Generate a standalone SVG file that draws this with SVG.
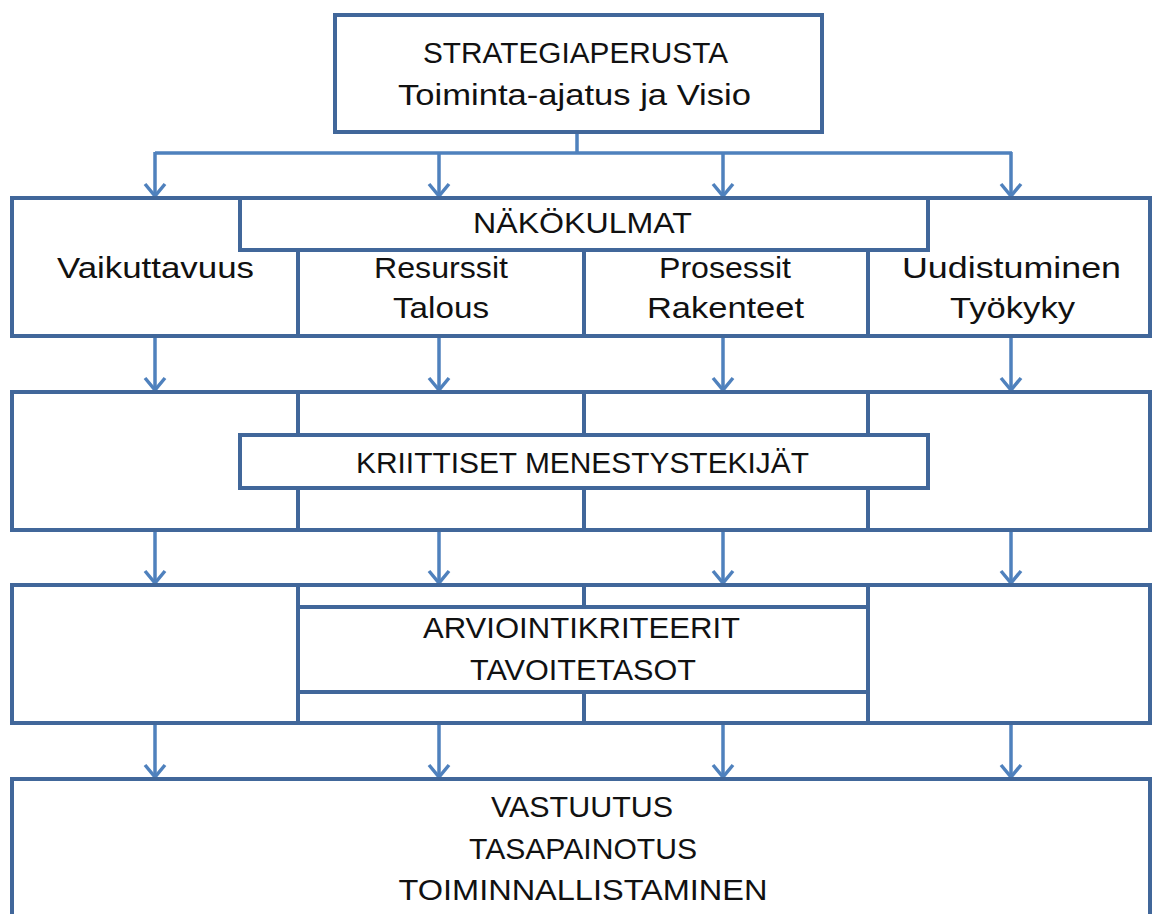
<svg xmlns="http://www.w3.org/2000/svg" width="1157" height="914" viewBox="0 0 1157 914">
<style>
.box{fill:#fff;stroke:#41679a;stroke-width:4}
.div{fill:none;stroke:#41679a;stroke-width:4}
.con{fill:none;stroke:#4f81bd;stroke-width:3.5}
.t{font-family:"Liberation Sans",Arial,sans-serif;font-size:29px;fill:#111;text-anchor:middle}
</style>
<defs>
<marker id="ah" markerUnits="userSpaceOnUse" markerWidth="18" markerHeight="26" viewBox="0 0 18 26" refX="15" refY="13" orient="auto">
<path d="M3,3 L15,13 L3,23" fill="none" stroke="#4f81bd" stroke-width="3.5"/>
</marker>
</defs>
<rect width="1157" height="914" fill="#fff"/>
<g id="connectors">
<path class="con" d="M577,132 V153 M155,153 H1012"/>
<path class="con" marker-end="url(#ah)" d="M155,152 V196"/>
<path class="con" marker-end="url(#ah)" d="M439,153 V196"/>
<path class="con" marker-end="url(#ah)" d="M723,153 V196"/>
<path class="con" marker-end="url(#ah)" d="M1011,152 V196"/>
<path class="con" marker-end="url(#ah)" d="M155,338 V390"/>
<path class="con" marker-end="url(#ah)" d="M439,338 V390"/>
<path class="con" marker-end="url(#ah)" d="M723,338 V390"/>
<path class="con" marker-end="url(#ah)" d="M1011,338 V390"/>
<path class="con" marker-end="url(#ah)" d="M155,532 V583"/>
<path class="con" marker-end="url(#ah)" d="M439,532 V583"/>
<path class="con" marker-end="url(#ah)" d="M723,532 V583"/>
<path class="con" marker-end="url(#ah)" d="M1011,532 V583"/>
<path class="con" marker-end="url(#ah)" d="M155,725 V777"/>
<path class="con" marker-end="url(#ah)" d="M439,725 V777"/>
<path class="con" marker-end="url(#ah)" d="M723,725 V777"/>
<path class="con" marker-end="url(#ah)" d="M1011,725 V777"/>
</g>
<g id="strategiaperusta">
<rect class="box" x="335" y="15" width="487" height="117"/>
<text class="t" x="575.5" y="63" textLength="305" lengthAdjust="spacingAndGlyphs">STRATEGIAPERUSTA</text>
<text class="t" x="574.5" y="105" textLength="353" lengthAdjust="spacingAndGlyphs">Toiminta-ajatus ja Visio</text>
</g>
<g id="nakokulmat">
<rect class="box" x="12" y="198" width="1138" height="138"/>
<path class="div" d="M298,250 V336 M584,250 V336 M868,250 V336"/>
<rect class="box" x="240" y="198" width="688" height="52"/>
<text class="t" x="582.5" y="233" textLength="219" lengthAdjust="spacingAndGlyphs">NÄKÖKULMAT</text>
<text class="t" x="155.5" y="278" textLength="197" lengthAdjust="spacingAndGlyphs">Vaikuttavuus</text>
<text class="t" x="441" y="278" textLength="134" lengthAdjust="spacingAndGlyphs">Resurssit</text>
<text class="t" x="441" y="318" textLength="96" lengthAdjust="spacingAndGlyphs">Talous</text>
<text class="t" x="725" y="278" textLength="132" lengthAdjust="spacingAndGlyphs">Prosessit</text>
<text class="t" x="725.5" y="318" textLength="157" lengthAdjust="spacingAndGlyphs">Rakenteet</text>
<text class="t" x="1011.5" y="278" textLength="219" lengthAdjust="spacingAndGlyphs">Uudistuminen</text>
<text class="t" x="1012.5" y="318" textLength="125" lengthAdjust="spacingAndGlyphs">Työkyky</text>
</g>
<g id="kriittiset">
<rect class="box" x="12" y="392" width="1138" height="138"/>
<path class="div" d="M298,392 V530 M584,392 V530 M868,392 V530"/>
<rect class="box" x="240" y="435" width="688" height="53"/>
<text class="t" x="582.5" y="473" textLength="453" lengthAdjust="spacingAndGlyphs">KRIITTISET MENESTYSTEKIJÄT</text>
</g>
<g id="arviointikriteerit">
<rect class="box" x="12" y="585" width="1138" height="138"/>
<path class="div" d="M298,585 V723 M584,585 V723 M868,585 V723"/>
<rect class="box" x="298" y="607" width="570" height="85"/>
<text class="t" x="581.5" y="638" textLength="317" lengthAdjust="spacingAndGlyphs">ARVIOINTIKRITEERIT</text>
<text class="t" x="583" y="680" textLength="226" lengthAdjust="spacingAndGlyphs">TAVOITETASOT</text>
</g>
<g id="vastuutus">
<rect class="box" x="12" y="779" width="1138" height="150"/>
<text class="t" x="582" y="817" textLength="182" lengthAdjust="spacingAndGlyphs">VASTUUTUS</text>
<text class="t" x="583" y="859" textLength="228" lengthAdjust="spacingAndGlyphs">TASAPAINOTUS</text>
<text class="t" x="583" y="900" textLength="369" lengthAdjust="spacingAndGlyphs">TOIMINNALLISTAMINEN</text>
</g>
</svg>
